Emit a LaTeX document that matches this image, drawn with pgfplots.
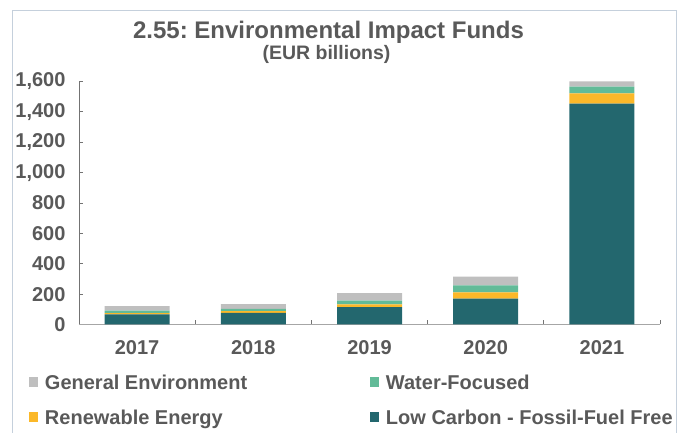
\documentclass[border=0pt]{standalone}
\usepackage{pgfplots}
\pgfplotsset{compat=1.18}
\usepackage{fontspec}
\setmainfont{Liberation Sans}
\frenchspacing

\definecolor{genenv}{HTML}{BFBFBF}
\definecolor{water}{HTML}{62BB98}
\definecolor{renew}{HTML}{FBB829}
\definecolor{lowcarb}{HTML}{23676E}
\definecolor{txt}{HTML}{595959}
\definecolor{framec}{HTML}{C5D0DC}

\begin{document}
\begin{tikzpicture}[x=1bp,y=1bp]
\path[use as bounding box] (0,0) rectangle (679,433);
\draw[framec, line width=1bp] (12,-2) -- (12,422) -- (676,422) -- (676,-2);
\node[anchor=base, inner sep=0pt, text=txt, font=\bfseries\fontsize{24bp}{28bp}\selectfont]
  at (328.5,394.3) {2.55: Environmental Impact Funds};
\node[anchor=base, inner sep=0pt, text=txt, font=\bfseries\fontsize{19.5bp}{23bp}\selectfont]
  at (326.5,373) {(EUR billions)};
\begin{axis}[
  at={(79bp,108.5bp)}, anchor=south west,
  scale only axis, width=581bp, height=243bp,
  ybar stacked, bar width=65bp,
  xmin=-0.5, xmax=4.5, ymin=0, ymax=1600,
  clip=false,
  axis lines*=left,
  x axis line style={draw=black!35, line width=1.3bp},
  y axis line style={draw=black!55, line width=0.8bp},
  tick align=inside,
  major tick length=4bp,
  tick style={draw=black!55, line width=0.8bp},
  xtick={-0.5,0.5,1.5,2.5,3.5,4.5},
  xticklabels={{},{},{},{},{},{}},
  extra x ticks={0,1,2,3,4},
  extra x tick labels={2017,2018,2019,2020,2021},
  extra x tick style={major tick length=0pt},
  ytick={0,200,...,1600},
  /pgf/number format/.cd, 1000 sep={,}, assume math mode=true,
  /pgfplots/.cd,
  ticklabel style={text=txt, font=\bfseries\fontsize{20bp}{24bp}\selectfont},
  xticklabel style={yshift=-12.5bp},
  yticklabel style={xshift=-10bp},
  reverse legend,
  legend columns=2,
  legend cell align=left,
  legend style={
    at={(-0.0861,-0.2045)}, anchor=north west,
    draw=none, fill=none, inner sep=0pt, outer sep=0pt,
    column sep=0pt, row sep=15bp,
    font=\bfseries\fontsize{20bp}{24bp}\selectfont, text=txt,
    nodes={inner sep=0pt, text height=15bp, text depth=5bp},
  },
  legend image code/.code={\fill[#1] (0bp,-2.5bp) rectangle (9.5bp,7bp); \path (16bp,0bp);},
]
\addplot[fill=lowcarb, draw=none] coordinates {(0,66) (1,77) (2,115) (3,171) (4,1455)};
\addlegendentry{Low Carbon - Fossil-Fuel Free}
\addplot[fill=renew, draw=none] coordinates {(0,9) (1,11) (2,18) (3,40) (4,66)};
\addlegendentry{\makebox[325bp][l]{Renewable Energy}}
\addplot[fill=water, draw=none] coordinates {(0,17) (1,15) (2,24) (3,46) (4,46)};
\addlegendentry{Water-Focused}
\addplot[fill=genenv, draw=none] coordinates {(0,29) (1,31) (2,49) (3,59) (4,33)};
\addlegendentry{\makebox[325bp][l]{General Environment}}
\end{axis}
\end{tikzpicture}
\end{document}
